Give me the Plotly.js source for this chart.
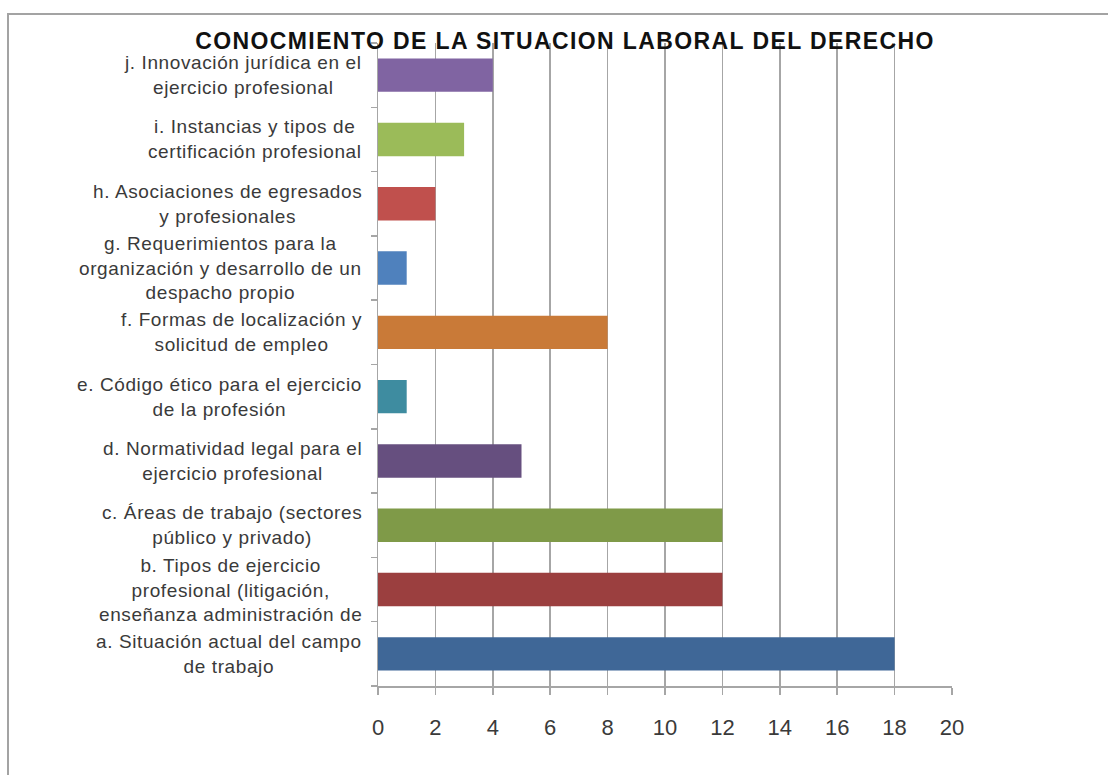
<!DOCTYPE html>
<html>
<head>
<meta charset="utf-8">
<script src="https://cdn.plot.ly/plotly-3.0.1.min.js"></script>
<style>
  html, body { margin: 0; padding: 0; background: #ffffff; }
  #frame { position: absolute; left: 7px; top: 13px; width: 1200px; height: 900px; border: 2px solid #a3a3a3; box-sizing: border-box; }
  #chart { position: absolute; left: 0; top: 0; width: 1108px; height: 775px; }
  .gtitle { letter-spacing: 1.4px; }
  .annotation-text { letter-spacing: 0.6px; }
</style>
</head>
<body>
<div id="frame"></div>
<div id="chart"></div>
<script>
const chartTitle = 'CONOCMIENTO DE LA SITUACION LABORAL DEL DERECHO';

const categories = [
  'a. Situación actual del campo<br>de trabajo',
  'b. Tipos de ejercicio<br>profesional (litigación,<br>enseñanza administración de',
  'c. Áreas de trabajo (sectores<br>público y privado)',
  'd. Normatividad legal para el<br>ejercicio profesional',
  'e. Código ético para el ejercicio<br>de la profesión',
  'f. Formas de localización y<br>solicitud de empleo',
  'g. Requerimientos para la<br>organización y desarrollo de un<br>despacho propio',
  'h. Asociaciones de egresados<br>y profesionales',
  'i. Instancias y tipos de<br>certificación profesional',
  'j. Innovación jurídica en el<br>ejercicio profesional'
];

const values = [18, 12, 12, 5, 1, 8, 1, 2, 3, 4];

const barColors = ['#3f6797', '#9b3f3f', '#7f9a48', '#664f7f', '#3e8ca0',
                   '#c97a38', '#4f81bd', '#c0504d', '#9bbb59', '#8064a2'];

const xTicks = [0, 2, 4, 6, 8, 10, 12, 14, 16, 18, 20];

const gridColor = '#a6a6a6';

const trace = {
  type: 'bar',
  orientation: 'h',
  x: values,
  y: categories,
  marker: { color: barColors, line: { width: 0 } },
  hoverinfo: 'x+y'
};

const annotations = categories.map((c) => ({
  xref: 'paper', yref: 'y',
  x: -0.026, y: c,
  xanchor: 'right', yanchor: 'middle',
  align: 'center',
  text: c,
  showarrow: false,
  borderpad: 0,
  font: { family: 'Liberation Sans, Arial, sans-serif', size: 19, color: '#3a3a3a' }
}));

const layout = {
  width: 1108,
  height: 775,
  margin: { l: 378, r: 156, t: 43, b: 89, pad: 0 },
  paper_bgcolor: 'rgba(0,0,0,0)',
  plot_bgcolor: 'rgba(0,0,0,0)',
  showlegend: false,
  bargap: 0.48,
  title: {
    text: chartTitle,
    x: 565 / 1108,
    xref: 'container',
    xanchor: 'center',
    y: 1 - 41 / 775,
    yref: 'container',
    yanchor: 'middle',
    font: { family: 'Liberation Sans, Arial, sans-serif', size: 23, color: '#111111', weight: 'bold' }
  },
  xaxis: {
    range: [0, 20],
    tickvals: xTicks,
    ticktext: xTicks.map(String),
    showgrid: true,
    gridcolor: gridColor,
    gridwidth: 1.5,
    zeroline: false,
    showline: true,
    linecolor: gridColor,
    linewidth: 1.5,
    ticks: 'outside',
    ticklen: 7,
    tickwidth: 1.5,
    tickcolor: gridColor,
    ticklabelstandoff: 14,
    tickfont: { family: 'Liberation Sans, Arial, sans-serif', size: 22, color: '#3a3a3a' },
    fixedrange: true
  },
  yaxis: {
    type: 'category',
    categoryorder: 'array',
    categoryarray: categories,
    showticklabels: false,
    tickson: 'boundaries',
    ticks: 'outside',
    ticklen: 6,
    tickwidth: 1.5,
    tickcolor: gridColor,
    showgrid: false,
    showline: true,
    linecolor: gridColor,
    linewidth: 1.5,
    zeroline: false,
    fixedrange: true
  },
  annotations: annotations
};

Plotly.newPlot('chart', [trace], layout, { displayModeBar: false, staticPlot: true });
</script>
</body>
</html>
